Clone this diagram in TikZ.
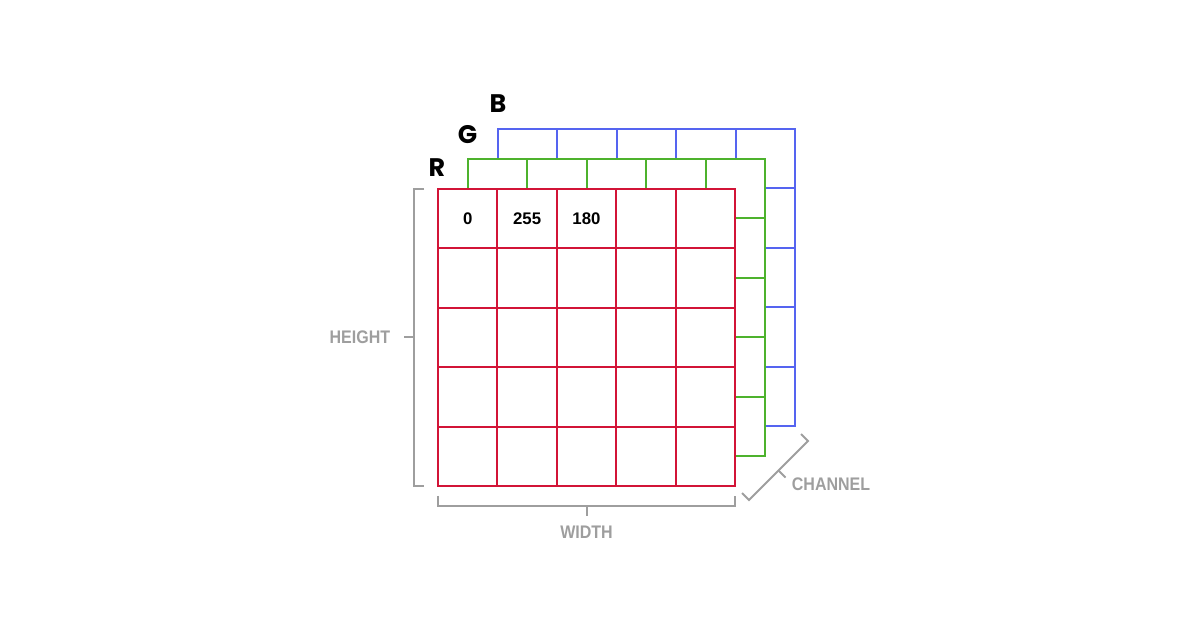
\documentclass[tikz,border=0pt]{standalone}
\usepackage{fontspec}
\newfontfamily\letterfont{Poppins}
\newfontfamily\numfont{Liberation Sans}
\newfontfamily\labfont{Liberation Sans}[FakeStretch=0.88]
\definecolor{redc}{RGB}{210,20,55}
\definecolor{greenc}{RGB}{77,178,45}
\definecolor{bluec}{RGB}{85,100,240}
\definecolor{greyc}{RGB}{158,158,158}
\tikzset{
  gridline/.style={line width=1pt},
  bracket/.style={draw=greyc, line width=1pt},
  chanletter/.style={font=\letterfont\bfseries\fontsize{12.7}{14}\selectfont, inner sep=0pt},
  valtext/.style={font=\numfont\bfseries\fontsize{8.4}{10}\selectfont, inner sep=0pt},
  dimlabel/.style={font=\labfont\bfseries\fontsize{9.1}{11}\selectfont, text=greyc, inner sep=0pt},
}
\newcommand{\layergrid}[3]{%
  \filldraw[gridline, draw=#3, fill=white] (438+#1,189+#2) rectangle (735+#1,486+#2);
  \foreach \k in {1,...,4} {
    \draw[gridline, draw=#3] (438+#1+59.4*\k,189+#2) -- (438+#1+59.4*\k,486+#2);
    \draw[gridline, draw=#3] (438+#1,189+#2+59.4*\k) -- (735+#1,189+#2+59.4*\k);
  }
}
\begin{document}
\begin{tikzpicture}[x=0.5pt, y=-0.5pt]
\useasboundingbox (0,0) rectangle (1200,630);
% layers
\layergrid{60}{-60}{bluec}
\layergrid{30}{-30}{greenc}
\layergrid{0}{0}{redc}
% channel letters
\node[chanletter] (B) at (498,104) {B};
\node[chanletter] (G) at (467.5,135) {G};
\node[chanletter] (R) at (437,168) {R};
% values
\node[valtext] (v1) at (467.7,218.7) {0};
\node[valtext] (v2) at (527.1,218.7) {255};
\node[valtext] (v3) at (586.5,218.7) {180};
% height bracket
\draw[bracket] (424,189) -- (414,189) -- (414,486) -- (424,486);
\draw[bracket] (404,337.5) -- (414,337.5);
\node[dimlabel, anchor=east] (height) at (390.5,337.5) {HEIGHT};
% width bracket
\draw[bracket] (438,496) -- (438,506) -- (735,506) -- (735,496);
\draw[bracket] (586.5,506) -- (586.5,516);
\node[dimlabel] (width) at (586.5,532) {WIDTH};
% channel bracket
\draw[bracket] (742,493) -- (749,500) -- (808,441) -- (801,434);
\draw[bracket] (778.5,470.5) -- (785.5,477.5);
\node[dimlabel, anchor=west] (channel) at (791.5,484) {CHANNEL};
\end{tikzpicture}
\end{document}
